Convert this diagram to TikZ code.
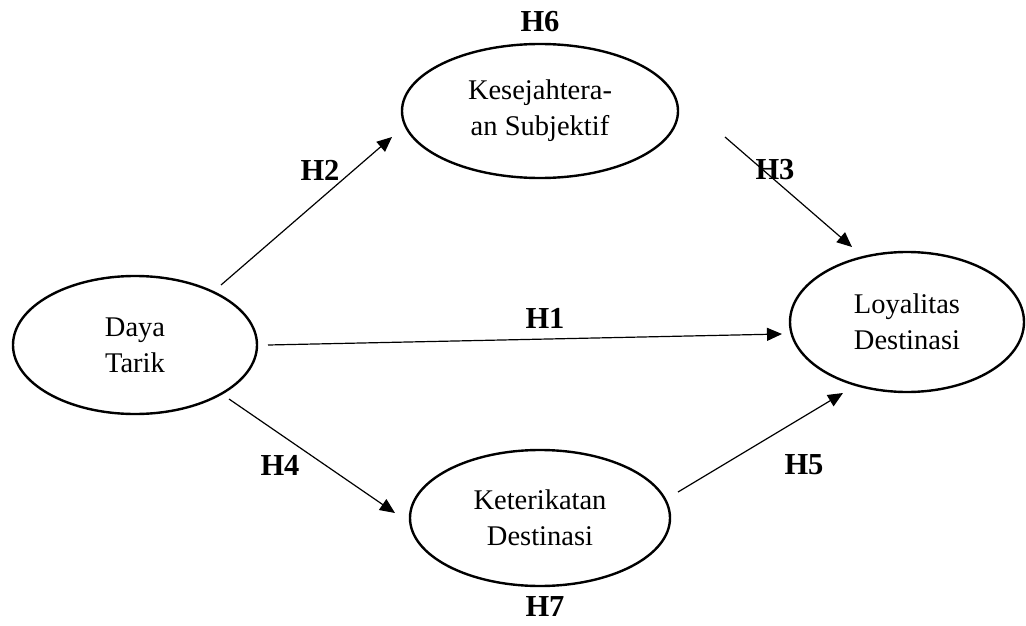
\documentclass[tikz,border=0pt]{standalone}
\usepackage{fontspec}
\setmainfont{Liberation Serif}
\usetikzlibrary{arrows.meta,shapes.geometric}
\begin{document}
\begin{tikzpicture}[x=1pt,y=-1pt,
  var/.style={draw,line width=2.4pt,ellipse,inner sep=0pt,align=center,font=\fontsize{28.5}{36}\selectfont},
  link/.style={line width=1.2pt,-{Triangle[length=15pt,width=13pt]}},
  hyp/.style={font=\fontsize{30.5}{34}\selectfont\bfseries}]
\useasboundingbox (0,0) rectangle (1026,626);
\node[var,minimum width=244pt,minimum height=138pt] (dt) at (135,345) {Daya\\Tarik};
\node[var,minimum width=276pt,minimum height=134pt] (ks) at (540,111) {Kesejahtera-\\an Subjektif};
\node[var,minimum width=234pt,minimum height=140pt] (ld) at (907,322) {Loyalitas\\Destinasi};
\node[var,minimum width=260pt,minimum height=136pt] (kd) at (540,518) {Keterikatan\\Destinasi};
\coordinate (a2) at (221,285); \coordinate (b2) at (392,137);
\coordinate (a1) at (268,345); \coordinate (b1) at (782,334);
\coordinate (a4) at (229,399); \coordinate (b4) at (395,513);
\coordinate (a3) at (725,137); \coordinate (b3) at (852,247);
\coordinate (a5) at (678,492); \coordinate (b5) at (843,393);
\draw[link] (a2) -- (b2);
\draw[link] (a1) -- (b1);
\draw[link] (a4) -- (b4);
\draw[link] (a3) -- (b3);
\draw[link] (a5) -- (b5);
\node[hyp] (h6) at (540,22) {H6};
\node[hyp] (h2) at (320,170) {H2};
\node[hyp] (h3) at (775,170) {H3};
\node[hyp] (h1) at (545,318) {H1};
\node[hyp] (h4) at (280,465) {H4};
\node[hyp] (h5) at (804,465) {H5};
\node[hyp] (h7) at (545,607) {H7};
\end{tikzpicture}
\end{document}
